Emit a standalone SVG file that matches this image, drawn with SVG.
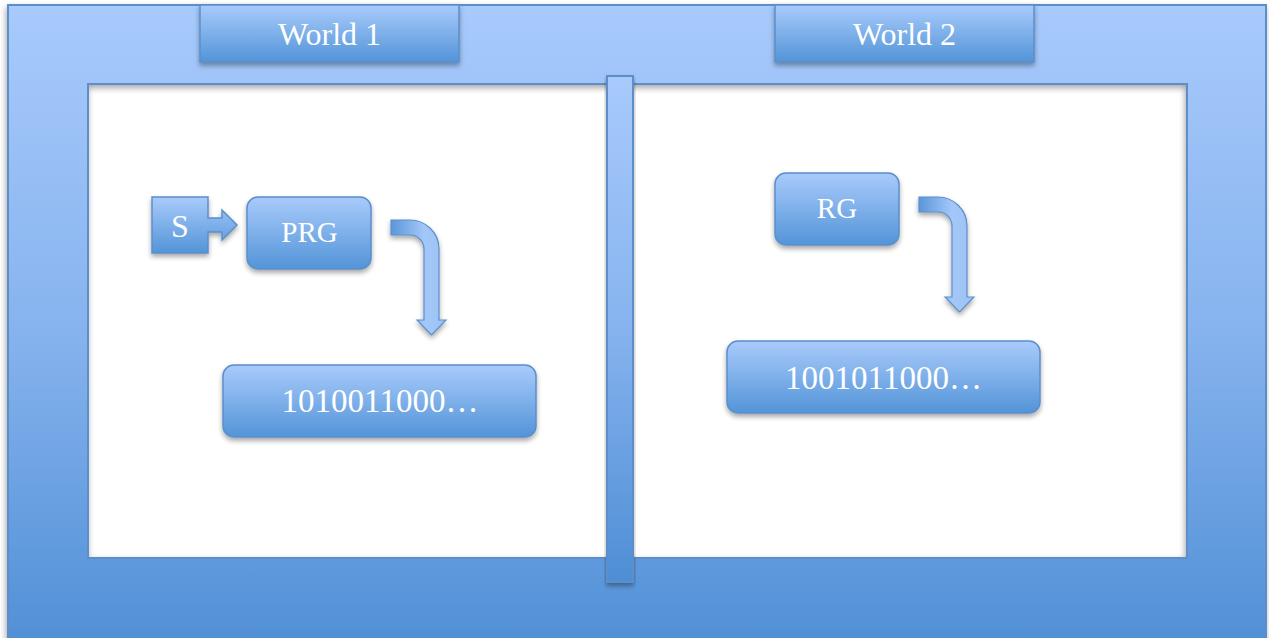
<svg xmlns="http://www.w3.org/2000/svg" width="1269" height="638" viewBox="0 0 1269 638">
<defs>
<linearGradient id="gFrame" x1="0" y1="0" x2="0" y2="1">
<stop offset="0" stop-color="#a8cafc"/>
<stop offset="0.5" stop-color="#86b3ee"/>
<stop offset="1" stop-color="#4e8ed5"/>
</linearGradient>
<linearGradient id="gBox" x1="0" y1="0" x2="0" y2="1">
<stop offset="0" stop-color="#a9cbfb"/>
<stop offset="1" stop-color="#5394d8"/>
</linearGradient>
<linearGradient id="gArrow" x1="0" y1="0" x2="1" y2="0">
<stop offset="0" stop-color="#5b96da"/>
<stop offset="0.6" stop-color="#a3c7f8"/>
<stop offset="1" stop-color="#9cc2f4"/>
</linearGradient>
<filter id="sh" x="-10%" y="-10%" width="120%" height="130%">
<feDropShadow dx="0" dy="3" stdDeviation="2.5" flood-color="#000" flood-opacity="0.35"/>
</filter>
<filter id="shF" x="-2%" y="-2%" width="104%" height="106%">
<feDropShadow dx="-1" dy="3" stdDeviation="3" flood-color="#000" flood-opacity="0.35"/>
</filter>
</defs>
<style>
.box{fill:url(#gBox);stroke:#5b8fca;stroke-width:1.5;filter:url(#sh)}
.lbl{font-family:"Liberation Serif","Times New Roman",serif;fill:#ffffff;text-anchor:middle}
.arr{fill:url(#gArrow);stroke:#5b8fca;stroke-width:1.2;filter:url(#sh)}
</style>
<rect x="0" y="0" width="1269" height="638" fill="#ffffff"/>
<g id="frame">
<path d="M8,5 H1266 V660 H8 Z M88,84 V558 H1187 V84 Z" fill="url(#gFrame)" fill-rule="evenodd" stroke="#5b8fca" stroke-width="2" filter="url(#shF)"/>
</g>
<g id="divider">
<rect x="607" y="76" width="26" height="506" fill="url(#gFrame)" stroke="#5b8fca" stroke-width="2" filter="url(#sh)"/>
</g>
<g id="world1">
<rect class="box" x="200" y="5" width="259" height="57"/>
<text class="lbl" x="329.5" y="45" font-size="32">World 1</text>
</g>
<g id="world2">
<rect class="box" x="775" y="5" width="259" height="57"/>
<text class="lbl" x="904.5" y="45" font-size="32">World 2</text>
</g>
<g id="seed">
<path class="box" d="M152,197 H208 V218 H222 V210 L237,225 L222,240 V232 H208 V253 H152 Z"/>
<text class="lbl" x="180" y="237" font-size="32">S</text>
</g>
<g id="prg">
<rect class="box" x="247" y="197" width="124" height="72" rx="11"/>
<text class="lbl" x="309.5" y="242" font-size="29">PRG</text>
</g>
<g id="rg">
<rect class="box" x="775" y="173" width="124" height="72" rx="11"/>
<text class="lbl" x="837" y="218" font-size="29">RG</text>
</g>
<g id="out1">
<rect class="box" x="223" y="365" width="313" height="72" rx="11"/>
<text class="lbl" x="380" y="412" font-size="33">1010011000…</text>
</g>
<g id="out2">
<rect class="box" x="727" y="341" width="313" height="72" rx="11"/>
<text class="lbl" x="883.5" y="389" font-size="33">1001011000…</text>
</g>
<g id="connectors">
<path class="arr" d="M391,220 H410 A29,29 0 0 1 439,249 V320 H446 L431.5,335 L417,320 H424 V249 A14,14 0 0 0 410,235 H391 Z"/>
<path class="arr" d="M919,197 H938 A29,29 0 0 1 967,226 V297 H974 L959.5,312 L945,297 H952 V226 A14,14 0 0 0 938,212 H919 Z"/>
</g>
</svg>
